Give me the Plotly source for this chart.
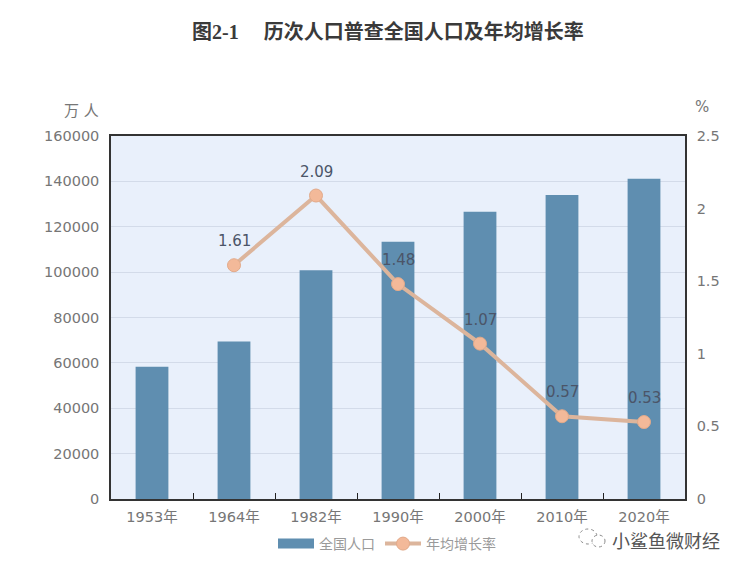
import plotly.graph_objects as go

W, H = 743, 569
PAGE = 8  # the page's own body margin
L, R, T, B = 111, 685, 136, 499  # plot area in screen pixels

years = ['1953年', '1964年', '1982年', '1990年', '2000年', '2010年', '2020年']
population = [58260, 69458, 100818, 113368, 126583, 133972, 141178]
growth = [None, 1.61, 2.09, 1.48, 1.07, 0.57, 0.53]
pop_ticks = [0, 20000, 40000, 60000, 80000, 100000, 120000, 140000, 160000]
rate_ticks = [0, 0.5, 1, 1.5, 2, 2.5]
rate_tick_labels = ['0', '0.5', '1', '1.5', '2', '2.5']

FONT = 'DejaVu Sans, Noto Sans CJK SC'
BAR = '#5f8eb0'
LINE = '#dcb59c'
TICK = '#767676'


def px(x):
    return (x - L) / (R - L)


def py(y):
    return (B - y) / (B - T)


fig = go.Figure()

fig.add_trace(go.Bar(x=years, y=population, marker=dict(color=BAR, line_width=0), showlegend=False))

# bar legend key in the reference is a wide block, so it goes through a line key
fig.add_trace(go.Scatter(x=[None], y=[None], mode='lines', name='全国人口', line=dict(color=BAR, width=10)))

fig.add_trace(go.Scatter(x=years, y=growth, yaxis='y2', name='年均增长率', mode='lines+markers',
                         line=dict(color=LINE, width=4),
                         marker=dict(size=13, color='#f3b999', line=dict(color='#e2aa8a', width=1))))

fig.update_layout(
    width=W - PAGE, height=H - PAGE,
    margin=dict(l=L - PAGE, r=W - R, t=T - PAGE, b=H - B, autoexpand=False),
    paper_bgcolor='white', plot_bgcolor='#e9f0fb',
    font=dict(family=FONT, color=TICK),
    bargap=0.6,
    xaxis=dict(type='category', categoryorder='array', categoryarray=years, tickson='boundaries',
               ticks='inside', ticklen=6, tickcolor='#222', showgrid=False, ticklabelstandoff=4,
               showline=True, linecolor='#333', linewidth=1.5, mirror=True,
               tickfont=dict(size=14.5, color=TICK)),
    yaxis=dict(range=[0, 160000], tickvals=pop_ticks, tickformat='d', ticks='', gridcolor='#d3dbe9', gridwidth=1,
               zeroline=False, showline=True, linecolor='#333', linewidth=1.5, ticklabelstandoff=7,
               tickfont=dict(size=14.5, color=TICK)),
    yaxis2=dict(range=[0, 2.5], tickvals=rate_ticks, ticktext=rate_tick_labels, overlaying='y', side='right',
                showgrid=False, zeroline=False, showline=True, linecolor='#333', linewidth=1.5,
                ticklabelstandoff=7, tickfont=dict(size=14.5, color=TICK)),
    legend=dict(orientation='h', x=px(387), xanchor='center', y=py(544), yanchor='middle',
                itemwidth=36, bgcolor='rgba(0,0,0,0)', font=dict(size=14, color='#9a9a9a')),
    showlegend=True,
)

# value labels sit further above the markers than textposition would put them
for year, value in zip(years, growth):
    if value is not None:
        fig.add_annotation(text='%.2f' % value, x=year, y=value, yref='y2', yshift=24, showarrow=False,
                           font=dict(size=15, color='#4b5568'))

fig.add_annotation(text='<b>图2-1　 历次人口普查全国人口及年均增长率</b>', xref='paper', yref='paper',
                   x=px(388), y=py(31), xanchor='center', yanchor='middle', showarrow=False,
                   font=dict(family='Liberation Serif, Noto Sans CJK SC', size=20, color='#3a3a3a'))
fig.add_annotation(text='万 人', xref='paper', yref='paper', x=px(101), y=py(111), xanchor='right', yanchor='middle',
                   showarrow=False, font=dict(size=15, color=TICK))
fig.add_annotation(text='%', xref='paper', yref='paper', x=px(702), y=py(107), xanchor='center', yanchor='middle',
                   showarrow=False, font=dict(size=15, color=TICK))
fig.add_annotation(text='小鲨鱼微财经', xref='paper', yref='paper', x=px(666), y=py(540), xanchor='center',
                   yanchor='middle', showarrow=False,
                   font=dict(family='Noto Sans CJK SC', size=18, color='#555555'))

# watermark icon: two little speech bubbles
for x0, y0, x1, y1 in [(579, 529, 597, 544), (592, 535, 605, 547)]:
    fig.add_shape(type='circle', xref='paper', yref='paper', x0=px(x0), x1=px(x1), y0=py(y1), y1=py(y0),
                  line=dict(color='#8a8a8a', width=1, dash='dot'), fillcolor='white')

fig.write_html("out.html")
